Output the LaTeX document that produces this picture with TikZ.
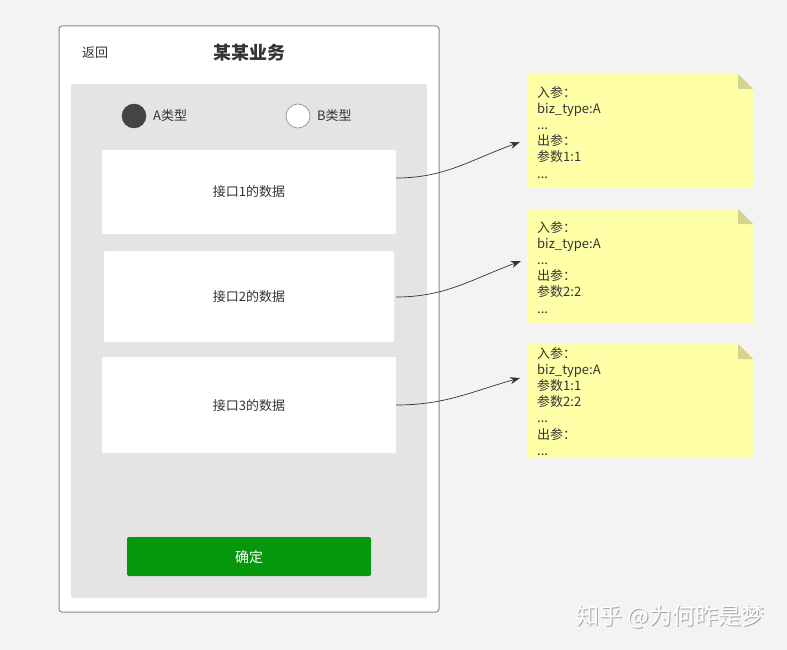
\documentclass[tikz,border=0pt]{standalone}
\usepackage{fontspec}
\setmainfont{Noto Sans CJK SC}
\usetikzlibrary{arrows.meta}
\definecolor{bgc}{HTML}{F3F3F3}
\definecolor{panelc}{HTML}{E4E4E4}
\definecolor{framec}{HTML}{8A8A8A}
\definecolor{notec}{HTML}{FFFFA8}
\definecolor{foldc}{HTML}{D4D48C}
\definecolor{btnc}{HTML}{06980C}
\definecolor{txtc}{HTML}{333333}
\definecolor{radioc}{HTML}{444444}
\tikzset{
  card/.style={draw=none, fill=white, rounded corners=1.5pt},
  cardtext/.style={font=\fontsize{13pt}{15pt}\selectfont, text=txtc},
  notetext/.style={font=\fontsize{13pt}{16.2pt}\selectfont, text=txtc, align=left, anchor=north west, inner sep=0pt},
  link/.style={draw=txtc, line width=0.7pt, -{Stealth[length=10pt,width=7pt]}},
}
\newcommand{\stickynote}[4]{%
  \fill[notec] (527,#1) -- (738,#1) -- (753,#1+15) -- (753,#1+114) -- (527,#1+114) -- cycle;
  \fill[foldc] (738,#1) -- (753,#1+15) -- (738,#1+15) -- cycle;
  \node[notetext] (#2) at (537,#1+#3) {#4};
}
\begin{document}
\begin{tikzpicture}[x=1pt,y=-1pt]
\useasboundingbox (0,0) rectangle (787,650);
\fill[bgc] (0,0) rectangle (787,650);
% phone frame
\draw[framec, fill=white, line width=1pt, rounded corners=3pt] (59,26) rectangle (439,612);
\node[font=\fontsize{13pt}{15pt}\selectfont, text=txtc] (back) at (95,53) {返回};
\node[font=\bfseries\fontsize{18pt}{20pt}\selectfont, text=txtc] (title) at (249,53) {某某业务};
\fill[panelc, rounded corners=2pt] (71,84) rectangle (427,598);
% radios
\node[circle, fill=radioc, draw=radioc!80!black, minimum size=24pt, inner sep=0pt] (ra) at (134,116) {};
\node[cardtext, anchor=west, inner sep=0pt] (ta) at (153,116) {A类型};
\node[circle, fill=white, draw=framec, line width=0.6pt, minimum size=24pt, inner sep=0pt] (rb) at (298,116) {};
\node[cardtext, anchor=west, inner sep=0pt] (tb) at (317,116) {B类型};
% cards
\fill[card] (102,150) rectangle (396,234);
\node[cardtext] (c1) at (249,192) {接口1的数据};
\fill[card] (104,251) rectangle (394,342);
\node[cardtext] (c2) at (249,297) {接口2的数据};
\fill[card] (102,357) rectangle (396,453);
\node[cardtext] (c3) at (249,406) {接口3的数据};
\coordinate (c1r) at (396,178);
\coordinate (c2r) at (396,297);
\coordinate (c3r) at (396,405);
% button
\fill[btnc, rounded corners=2pt] (127,537) rectangle (371,576);
\node[font=\fontsize{14pt}{16pt}\selectfont, text=white] (ok) at (249,557) {确定};
% notes
\stickynote{74}{n1}{12}{入参：\\biz\_type:A\\...\\出参：\\参数1:1\\...}
\stickynote{209}{n2}{12}{入参：\\biz\_type:A\\...\\出参：\\参数2:2\\...}
\stickynote{344}{n3}{3}{入参：\\biz\_type:A\\参数1:1\\参数2:2\\...\\出参：\\...}
\coordinate (t1) at (520,142);
\coordinate (t2) at (521,261);
\coordinate (t3) at (520,378);
\draw[link] (c1r) .. controls (445,178) and (470,160) .. (t1);
\draw[link] (c2r) .. controls (445,297) and (470,280) .. (t2);
\draw[link] (c3r) .. controls (445,405) and (470,392) .. (t3);
% watermark
\node[font=\fontsize{23pt}{25pt}\selectfont, text=black!35, anchor=west] (wms) at (574,618) {知乎 @为何昨是梦};
\node[font=\fontsize{23pt}{25pt}\selectfont, text=white, anchor=west] (wm) at (573,617) {知乎 @为何昨是梦};
\end{tikzpicture}
\end{document}
